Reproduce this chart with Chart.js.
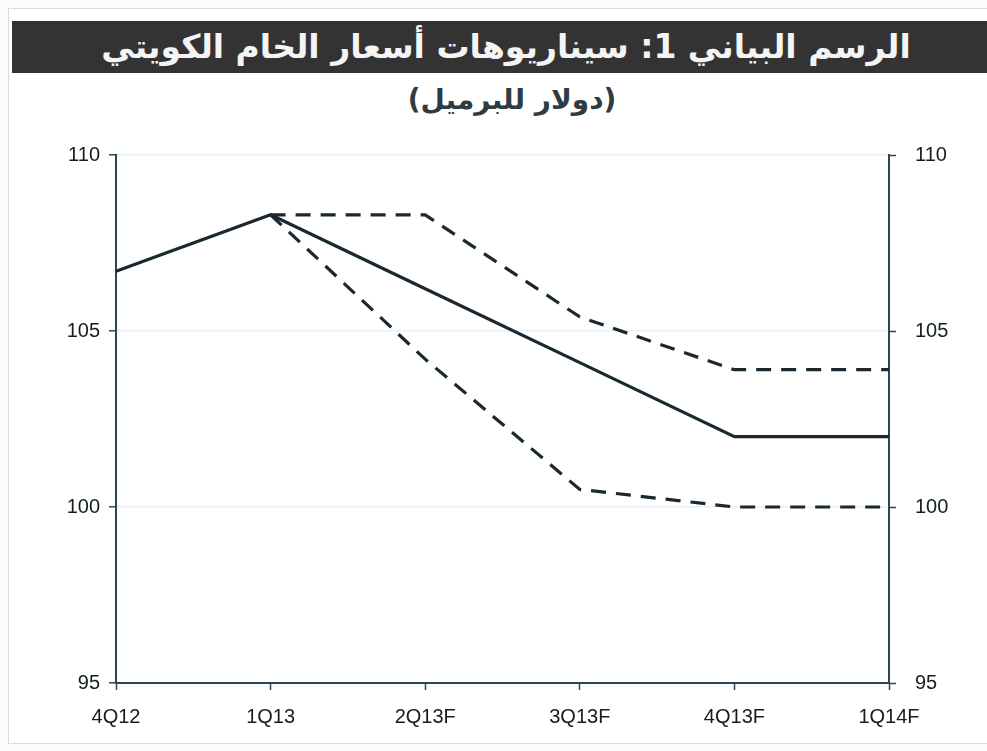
<!DOCTYPE html>
<html lang="ar">
<head>
<meta charset="utf-8">
<script src="https://cdn.jsdelivr.net/npm/chart.js@4.4.0/dist/chart.umd.min.js"></script>
<style>
  html, body { margin:0; padding:0; background:#fdfcfb; }
  #wrap { position:relative; width:987px; height:751px; overflow:hidden; }
  #frame { position:absolute; left:8px; top:8px; width:990px; height:734px; border:1px solid #d6dbe0; background:#ffffff; }
  #titlebar { position:absolute; left:12px; top:21px; width:990px; height:52px; background:#333333;
    color:#f4f4f4; font-family:"DejaVu Sans", sans-serif; font-weight:bold; font-size:33px;
    line-height:52px; text-align:center; direction:rtl; box-sizing:border-box; padding-right:18px; }
  #titlebar span { display:inline-block; transform:translateX(8px); }
  #subtitle { position:absolute; left:0; top:80px; width:1024px; text-align:center; direction:rtl;
    color:#2e3b43; font-family:"DejaVu Sans", sans-serif; font-weight:bold; font-size:28px; line-height:40px; }
  #c { position:absolute; left:0; top:0; }
</style>
</head>
<body>
<div id="wrap">
  <div id="frame"></div>
  <div id="titlebar"><span>الرسم البياني 1: سيناريوهات أسعار الخام الكويتي</span></div>
  <div id="subtitle">(دولار للبرميل)</div>
  <canvas id="c" width="987" height="751"></canvas>
</div>
<script>
const categories = ['4Q12', '1Q13', '2Q13F', '3Q13F', '4Q13F', '1Q14F'];
const baseCase = [106.7, 108.3, 106.2, 104.1, 102.0, 102.0];
const highCase = [null, 108.3, 108.3, 105.4, 103.9, 103.9];
const lowCase  = [null, 108.3, 104.2, 100.5, 100.0, 100.0];
const yTicks = [95, 100, 105, 110];

const lineColor = '#1a2830';
const axisColor = '#2e4654';
const tickFont = { family: '"Liberation Sans", Arial, sans-serif', size: 20 };
const tickColor = '#141d22';

new Chart(document.getElementById('c'), {
  type: 'line',
  data: {
    labels: categories,
    datasets: [
      { data: baseCase, borderColor: lineColor, borderWidth: 3.2, pointRadius: 0, tension: 0, fill: false, yAxisID: 'y' },
      { data: highCase, borderColor: lineColor, borderWidth: 3.2, borderDash: [15, 10], pointRadius: 0, tension: 0, fill: false, yAxisID: 'y' },
      { data: lowCase,  borderColor: lineColor, borderWidth: 3.2, borderDash: [15, 10], pointRadius: 0, tension: 0, fill: false, yAxisID: 'y' }
    ]
  },
  options: {
    responsive: false,
    animation: false,
    layout: { padding: { top: 155, left: 0, right: 0, bottom: 0 } },
    plugins: { legend: { display: false }, tooltip: { enabled: false }, title: { display: false } },
    scales: {
      x: {
        type: 'category',
        offset: false,
        grid: { drawOnChartArea: false, drawTicks: true, tickLength: 7, tickColor: axisColor, tickWidth: 1.5 },
        border: { display: true, color: axisColor, width: 2 },
        ticks: { font: tickFont, color: tickColor, padding: 15, maxRotation: 0, autoSkip: false },
        afterFit: s => { s.height = 68; }
      },
      y: {
        position: 'left',
        min: 95, max: 110,
        afterBuildTicks: s => { s.ticks = yTicks.map(v => ({ value: v })); },
        grid: { drawOnChartArea: true, color: 'rgba(205,222,232,0.45)', lineWidth: 1.5, drawTicks: true, tickLength: 7, tickColor: axisColor, tickWidth: 1.5 },
        border: { display: true, color: axisColor, width: 2 },
        ticks: { font: tickFont, color: tickColor, padding: 9 },
        afterFit: s => { s.width = 116; }
      },
      y2: {
        position: 'right',
        min: 95, max: 110,
        afterBuildTicks: s => { s.ticks = yTicks.map(v => ({ value: v })); },
        grid: { drawOnChartArea: false, drawTicks: true, tickLength: 7, tickColor: axisColor, tickWidth: 1.5 },
        border: { display: true, color: axisColor, width: 2 },
        ticks: { font: tickFont, color: tickColor, padding: 19 },
        afterFit: s => { s.width = 98; }
      }
    }
  }
});
</script>
</body>
</html>
